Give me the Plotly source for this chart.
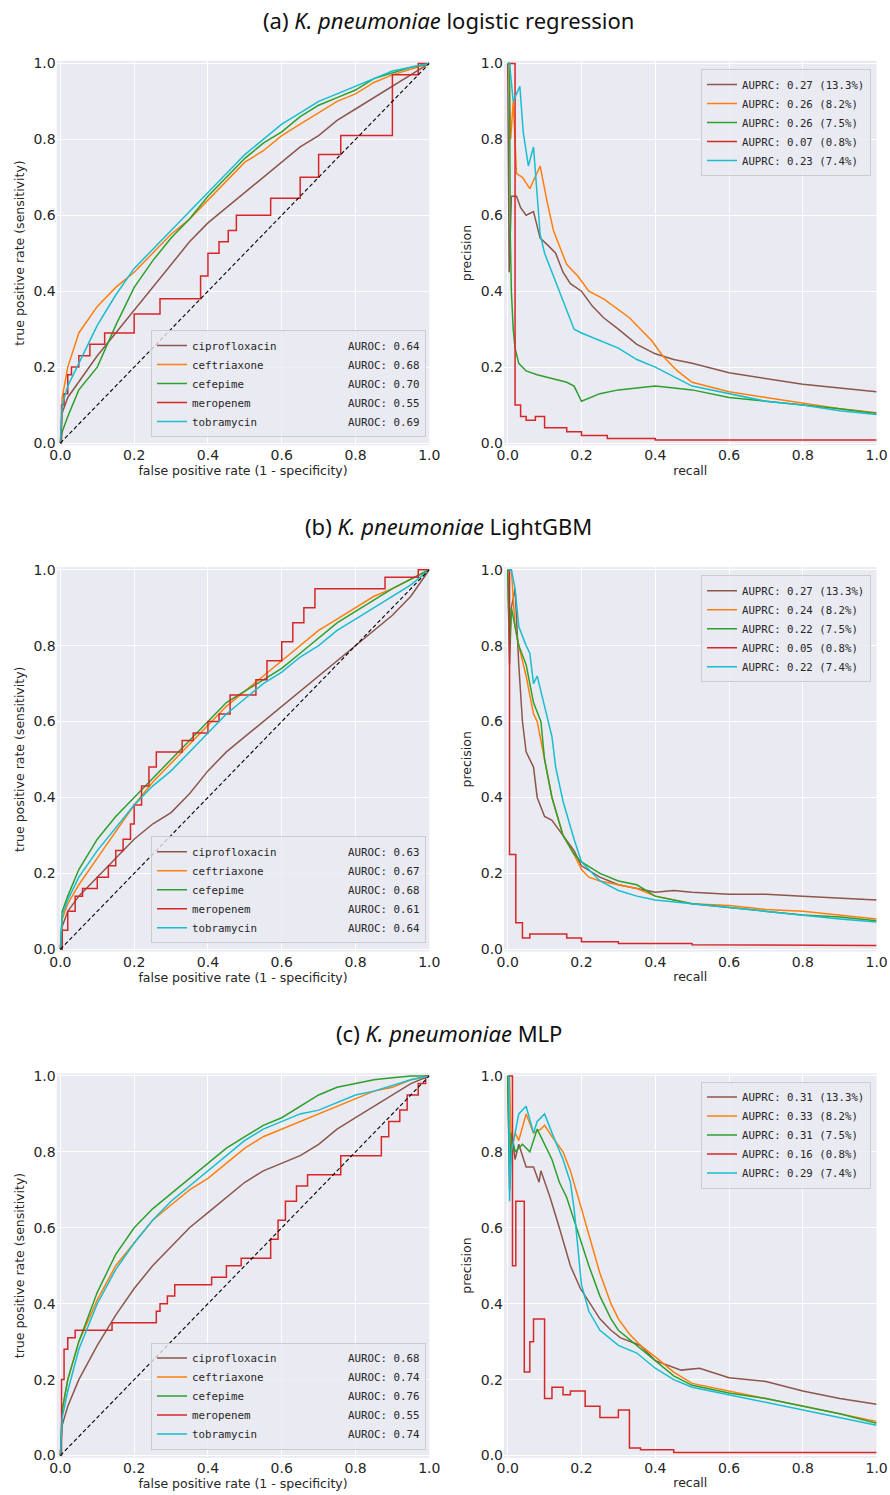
import plotly.graph_objects as go

# ---------------- data ----------------
drugs = ["ciprofloxacin", "ceftriaxone", "cefepime", "meropenem", "tobramycin"]
colors = ["#8c564b", "#ff7f0e", "#2ca02c", "#d62728", "#17becf"]
prevalence = ["13.3%", "8.2%", "7.5%", "0.8%", "7.4%"]
panel_titles = ["(a) <i>K. pneumoniae</i> logistic regression",
                "(b) <i>K. pneumoniae</i> LightGBM",
                "(c) <i>K. pneumoniae</i> MLP"]
auroc_lr = [0.64, 0.68, 0.70, 0.55, 0.69]
auroc_lgbm = [0.63, 0.67, 0.68, 0.61, 0.64]
auroc_mlp = [0.68, 0.74, 0.76, 0.55, 0.74]
auprc_lr = [0.27, 0.26, 0.26, 0.07, 0.23]
auprc_lgbm = [0.27, 0.24, 0.22, 0.05, 0.22]
auprc_mlp = [0.31, 0.33, 0.31, 0.16, 0.29]
tick_vals = [0.0, 0.2, 0.4, 0.6, 0.8, 1.0]
chance_line = [0.0, 1.0]

# shared false-positive-rate grid for the smooth ROC curves
roc_fpr = [0, .005, .02, .05, .1, .15, .2, .25, .3, .35, .4, .45, .5, .55, .6, .65, .7, .75, .8, .85, .9, .95, 1]

# (a) logistic regression ROC
lr_roc_cip = [0, .08, .12, .16, .23, .29, .35, .41, .47, .53, .58, .62, .66, .70, .74, .78, .81, .85, .88, .91, .94, .97, 1]
lr_roc_cro = [0, .12, .20, .29, .36, .41, .45, .50, .55, .59, .64, .69, .74, .77, .81, .84, .87, .90, .92, .95, .97, .985, 1]
lr_roc_fep = [0, .03, .07, .14, .20, .31, .41, .48, .54, .59, .65, .70, .75, .79, .82, .86, .89, .91, .93, .96, .975, .99, 1]
lr_roc_tob = [0, .10, .15, .21, .31, .39, .46, .51, .56, .61, .66, .71, .76, .80, .84, .87, .90, .92, .94, .96, .98, .99, 1]
lr_roc_mem_fpr = [0, .003, .01, .02, .03, .05, .08, .12, .2, .27, .38, .4, .43, .455, .477, .57, .65, .7, .76, .9, .97, 1.0]
lr_roc_mem_tpr = [0, .1, .13, .18, .2, .23, .26, .29, .34, .38, .44, .5, .53, .56, .6, .645, .7, .76, .81, .97, 1.0, 1.0]

# (b) LightGBM ROC
gb_roc_cip = [0, .06, .10, .14, .19, .24, .29, .33, .36, .41, .47, .52, .56, .60, .64, .68, .72, .76, .80, .84, .88, .93, 1]
gb_roc_cro = [0, .08, .12, .17, .24, .31, .38, .44, .49, .54, .59, .64, .68, .72, .76, .80, .84, .87, .90, .93, .95, .975, 1]
gb_roc_fep = [0, .10, .14, .21, .29, .35, .40, .45, .50, .55, .60, .65, .68, .71, .74, .78, .82, .86, .89, .92, .95, .975, 1]
gb_roc_tob = [0, .09, .13, .19, .26, .32, .38, .43, .47, .52, .57, .62, .66, .70, .73, .77, .80, .84, .87, .90, .93, .96, 1]
gb_roc_mem_fpr = [0, .005, .02, .04, .06, .1, .13, .15, .17, .19, .2, .22, .24, .26, .33, .36, .4, .43, .46, .53, .56, .6, .63, .66, .69, .88, .97, 1.0]
gb_roc_mem_tpr = [0, .05, .1, .14, .16, .19, .22, .26, .29, .33, .38, .43, .48, .52, .55, .57, .6, .62, .67, .71, .76, .81, .86, .9, .95, .98, 1.0, 1.0]

# (c) MLP ROC
mlp_roc_cip = [0, .08, .13, .20, .29, .37, .44, .50, .55, .60, .64, .68, .72, .75, .77, .79, .82, .86, .89, .92, .95, .98, 1]
mlp_roc_cro = [0, .12, .20, .30, .41, .50, .56, .62, .66, .70, .73, .77, .81, .84, .86, .88, .90, .92, .94, .96, .97, .99, 1]
mlp_roc_fep = [0, .12, .20, .30, .43, .53, .60, .65, .69, .73, .77, .81, .84, .87, .89, .92, .95, .97, .98, .99, .995, 1, 1]
mlp_roc_tob = [0, .10, .17, .28, .40, .49, .56, .62, .67, .71, .75, .79, .83, .86, .88, .90, .91, .93, .95, .96, .975, .99, 1]
mlp_roc_mem_fpr = [0, .003, .01, .02, .04, .14, .26, .27, .29, .31, .41, .45, .49, .57, .59, .61, .64, .67, .76, .87, .89, .92, .94, .97, .99, 1.0]
mlp_roc_mem_tpr = [0, .2, .28, .31, .33, .35, .38, .4, .42, .45, .47, .5, .52, .57, .62, .67, .71, .74, .79, .84, .88, .91, .95, .98, 1.0, 1.0]

# (a) logistic regression precision-recall
lr_pr_cip_r = [0, .002, .004, .01, .024, .035, .05, .07, .088, .11, .13, .15, .17, .2, .23, .26, .3, .35, .4, .45, .5, .6, .7, .8, .9, 1.0]
lr_pr_cip_p = [1.0, .75, .45, .65, .65, .62, .6, .61, .54, .52, .5, .45, .42, .4, .36, .33, .3, .26, .235, .22, .21, .185, .17, .155, .145, .135]
lr_pr_cro_r = [0, .003, .008, .015, .024, .04, .06, .075, .088, .106, .124, .14, .16, .19, .22, .26, .3, .33, .36, .39, .42, .46, .5, .6, .7, .8, .9, 1.0]
lr_pr_cro_p = [1.0, 1.0, .8, .9, .71, .7, .67, .7, .73, .64, .56, .52, .47, .44, .4, .38, .35, .33, .3, .27, .23, .19, .16, .135, .12, .105, .09, .08]
lr_pr_fep_r = [0, .005, .007, .01, .015, .02, .03, .05, .08, .12, .16, .18, .2, .25, .3, .35, .4, .5, .6, .7, .8, .9, 1.0]
lr_pr_fep_p = [1.0, 1.0, .55, .4, .3, .25, .21, .19, .18, .17, .16, .15, .11, .13, .14, .145, .15, .14, .12, .11, .1, .09, .078]
lr_pr_mem_r = [0, .02, .02, .035, .035, .05, .05, .075, .075, .1, .1, .16, .16, .2, .2, .27, .27, .4, .4, 1.0]
lr_pr_mem_p = [1.0, 1.0, .1, .1, .07, .07, .06, .06, .07, .07, .04, .04, .03, .03, .02, .02, .012, .012, .008, .008]
lr_pr_tob_r = [0, .005, .015, .033, .042, .056, .07, .079, .088, .1, .12, .15, .18, .2, .25, .3, .35, .4, .5, .6, .7, .8, .9, 1.0]
lr_pr_tob_p = [1.0, 1.0, .9, .94, .82, .73, .78, .67, .55, .5, .45, .37, .3, .29, .27, .25, .22, .2, .15, .13, .11, .1, .085, .075]

# (b) LightGBM precision-recall
gb_pr_cip_r = [0, .005, .01, .02, .03, .04, .05, .06, .07, .08, .1, .12, .15, .18, .2, .25, .3, .35, .4, .45, .5, .6, .7, .8, .9, 1.0]
gb_pr_cip_p = [1.0, .75, .9, .95, .75, .6, .52, .5, .48, .4, .35, .34, .3, .26, .22, .19, .17, .16, .15, .155, .15, .145, .145, .14, .135, .13]
gb_pr_cro_r = [0, .01, .02, .03, .05, .07, .08, .1, .12, .15, .18, .2, .22, .25, .3, .35, .4, .45, .5, .6, .7, .8, .9, 1.0]
gb_pr_cro_p = [1.0, 1.0, .85, .8, .72, .62, .6, .5, .4, .3, .25, .21, .19, .18, .17, .16, .14, .13, .12, .115, .105, .1, .09, .08]
gb_pr_fep_r = [0, .005, .01, .02, .03, .05, .07, .09, .1, .12, .15, .18, .2, .25, .3, .35, .4, .5, .6, .7, .8, .9, 1.0]
gb_pr_fep_p = [1.0, .8, .9, .85, .8, .75, .65, .6, .5, .4, .3, .25, .23, .2, .18, .17, .14, .12, .11, .1, .09, .085, .075]
gb_pr_mem_r = [0, .005, .005, .022, .022, .04, .04, .06, .06, .16, .16, .2, .2, .3, .3, .5, .5, 1.0]
gb_pr_mem_p = [1.0, 1.0, .25, .25, .07, .07, .03, .03, .04, .04, .03, .03, .02, .02, .015, .015, .012, .01]
gb_pr_tob_r = [0, .01, .02, .03, .05, .06, .07, .08, .1, .12, .13, .15, .18, .2, .25, .3, .35, .4, .5, .6, .7, .8, .9, 1.0]
gb_pr_tob_p = [1.0, 1.0, .95, .85, .8, .78, .7, .72, .64, .56, .48, .39, .29, .23, .18, .155, .14, .13, .12, .11, .1, .09, .08, .072]

# (c) MLP precision-recall
mlp_pr_cip_r = [0, .005, .01, .02, .03, .05, .07, .085, .09, .115, .14, .155, .17, .197, .224, .25, .28, .306, .36, .4, .47, .52, .6, .7, .8, .9, 1.0]
mlp_pr_cip_p = [1.0, .7, .85, .78, .82, .76, .76, .72, .75, .68, .6, .55, .5, .44, .4, .36, .33, .31, .29, .25, .225, .23, .205, .195, .17, .15, .135]
mlp_pr_cro_r = [0, .005, .01, .02, .03, .05, .07, .09, .1, .12, .15, .17, .2, .22, .25, .28, .3, .33, .36, .4, .45, .5, .6, .7, .8, .9, 1.0]
mlp_pr_cro_p = [1.0, 1.0, .8, .85, .83, .9, .85, .86, .87, .84, .8, .75, .65, .58, .48, .4, .36, .32, .29, .26, .22, .19, .17, .15, .13, .11, .09]
mlp_pr_fep_r = [0, .005, .01, .02, .04, .06, .08, .1, .12, .14, .16, .18, .2, .22, .25, .28, .3, .35, .4, .45, .5, .6, .7, .8, .9, 1.0]
mlp_pr_fep_p = [1.0, .75, .85, .8, .82, .8, .86, .82, .78, .72, .68, .62, .56, .5, .42, .36, .33, .29, .25, .21, .185, .165, .15, .13, .11, .085]
mlp_pr_mem_r = [0, .013, .013, .022, .022, .045, .045, .06, .06, .07, .07, .1, .1, .12, .12, .15, .15, .17, .17, .21, .21, .25, .25, .3, .3, .33, .33, .36, .36, .45, .45, 1.0]
mlp_pr_mem_p = [1.0, 1.0, .5, .5, .67, .67, .22, .22, .3, .3, .36, .36, .15, .15, .18, .18, .16, .16, .17, .17, .13, .13, .1, .1, .12, .12, .02, .02, .015, .015, .008, .008]
mlp_pr_tob_r = [0, .003, .005, .01, .02, .03, .05, .07, .08, .1, .12, .15, .17, .18, .19, .2, .22, .25, .3, .35, .4, .45, .5, .6, .7, .8, .9, 1.0]
mlp_pr_tob_p = [1.0, 1.0, .67, .8, .85, .9, .92, .85, .88, .9, .85, .78, .72, .65, .55, .45, .38, .33, .29, .27, .23, .2, .18, .16, .14, .12, .1, .08]

# ---------------- assemble ----------------
roc_panels = [
    [(roc_fpr, lr_roc_cip), (roc_fpr, lr_roc_cro), (roc_fpr, lr_roc_fep),
     (lr_roc_mem_fpr, lr_roc_mem_tpr), (roc_fpr, lr_roc_tob)],
    [(roc_fpr, gb_roc_cip), (roc_fpr, gb_roc_cro), (roc_fpr, gb_roc_fep),
     (gb_roc_mem_fpr, gb_roc_mem_tpr), (roc_fpr, gb_roc_tob)],
    [(roc_fpr, mlp_roc_cip), (roc_fpr, mlp_roc_cro), (roc_fpr, mlp_roc_fep),
     (mlp_roc_mem_fpr, mlp_roc_mem_tpr), (roc_fpr, mlp_roc_tob)],
]
pr_panels = [
    [(lr_pr_cip_r, lr_pr_cip_p), (lr_pr_cro_r, lr_pr_cro_p), (lr_pr_fep_r, lr_pr_fep_p),
     (lr_pr_mem_r, lr_pr_mem_p), (lr_pr_tob_r, lr_pr_tob_p)],
    [(gb_pr_cip_r, gb_pr_cip_p), (gb_pr_cro_r, gb_pr_cro_p), (gb_pr_fep_r, gb_pr_fep_p),
     (gb_pr_mem_r, gb_pr_mem_p), (gb_pr_tob_r, gb_pr_tob_p)],
    [(mlp_pr_cip_r, mlp_pr_cip_p), (mlp_pr_cro_r, mlp_pr_cro_p), (mlp_pr_fep_r, mlp_pr_fep_p),
     (mlp_pr_mem_r, mlp_pr_mem_p), (mlp_pr_tob_r, mlp_pr_tob_p)],
]
aurocs = [auroc_lr, auroc_lgbm, auroc_mlp]
auprcs = [auprc_lr, auprc_lgbm, auprc_mlp]

W, H = 890, 1495
ROW_STEP = 506.25
NB = "\u00a0"
TXT = "#262626"

fig = go.Figure()

def ypaper(px):
    return 1 - px / H

layout = dict(
    width=W, height=H, margin=dict(l=0, r=0, t=0, b=0),
    paper_bgcolor="white", plot_bgcolor="#EAEAF2",
    showlegend=True, annotations=[],
)

for row in range(3):
    top = 60.8 + ROW_STEP * row
    bot = 445.3 + ROW_STEP * row
    ydom = [ypaper(bot), ypaper(top)]
    for col in range(2):
        k = row * 2 + col
        n = k + 1
        xa = "x" if n == 1 else f"x{n}"
        ya = "y" if n == 1 else f"y{n}"
        leg = "legend" if n == 1 else f"legend{n}"
        xdom = [56.7 / W, 429.3 / W] if col == 0 else [504.0 / W, 876.6 / W]
        common = dict(
            range=[-0.01, 1.0], tickvals=tick_vals, tickformat=".1f",
            showgrid=True, gridcolor="white", gridwidth=1.3, zeroline=False,
            showline=False, ticks="", automargin=False,
            tickfont=dict(family="DejaVu Sans", size=14, color=TXT),
        )
        xtitle = "false positive rate (1 - specificity)" if col == 0 else "recall"
        ytitle = "true positive rate (sensitivity)" if col == 0 else "precision"
        layout["xaxis" if n == 1 else f"xaxis{n}"] = dict(
            common, domain=xdom, anchor=ya,
            title=dict(text=xtitle, standoff=3, font=dict(family="DejaVu Sans", size=12.5, color=TXT)))
        ycommon = dict(common)
        ycommon["range"] = [-0.006, 1.007]
        layout["yaxis" if n == 1 else f"yaxis{n}"] = dict(
            ycommon, domain=ydom, anchor=xa,
            title=dict(text=ytitle, standoff=6, font=dict(family="DejaVu Sans", size=12.5, color=TXT)))

        if col == 0:
            curves = roc_panels[row]
            for i, (xv, yv) in enumerate(curves):
                name = drugs[i].ljust(24).replace(" ", NB) + f"AUROC:{NB}{aurocs[row][i]:.2f}"
                fig.add_trace(go.Scatter(
                    x=xv, y=yv, mode="lines", name=name, legend=leg,
                    line=dict(color=colors[i], width=1.5, shape="hv" if i == 3 else "linear"),
                    xaxis=xa, yaxis=ya, hoverinfo="skip"))
            fig.add_trace(go.Scatter(
                x=chance_line, y=chance_line, mode="lines", showlegend=False,
                line=dict(color="black", width=1.1, dash="4px,2.5px"),
                xaxis=xa, yaxis=ya, hoverinfo="skip"))
            layout[leg] = dict(
                x=151 / W, xanchor="left", y=ypaper(437 + ROW_STEP * row), yanchor="bottom",
                bgcolor="rgba(234,234,242,0.8)", bordercolor="#CCCCCC", borderwidth=1,
                font=dict(family="DejaVu Sans Mono", size=10.8, color=TXT),
                itemwidth=30, traceorder="normal")
        else:
            curves = pr_panels[row]
            for i, (xv, yv) in enumerate(curves):
                name = f"AUPRC:{NB}{auprcs[row][i]:.2f}{NB}({prevalence[i]})"
                fig.add_trace(go.Scatter(
                    x=xv, y=yv, mode="lines", name=name, legend=leg,
                    line=dict(color=colors[i], width=1.5),
                    xaxis=xa, yaxis=ya, hoverinfo="skip"))
            layout[leg] = dict(
                x=701 / W, xanchor="left", y=ypaper(69 + ROW_STEP * row), yanchor="top",
                bgcolor="rgba(234,234,242,0.8)", bordercolor="#CCCCCC", borderwidth=1,
                font=dict(family="DejaVu Sans Mono", size=10.7, color=TXT),
                itemwidth=30, traceorder="normal")

    layout["annotations"].append(dict(
        text=panel_titles[row], xref="paper", yref="paper",
        x=449 / W, y=ypaper(20 + ROW_STEP * row), xanchor="center", yanchor="middle",
        showarrow=False, font=dict(family="Noto Sans", size=22, color="#111111")))

fig.update_layout(**layout)
fig.write_html("out.html")
